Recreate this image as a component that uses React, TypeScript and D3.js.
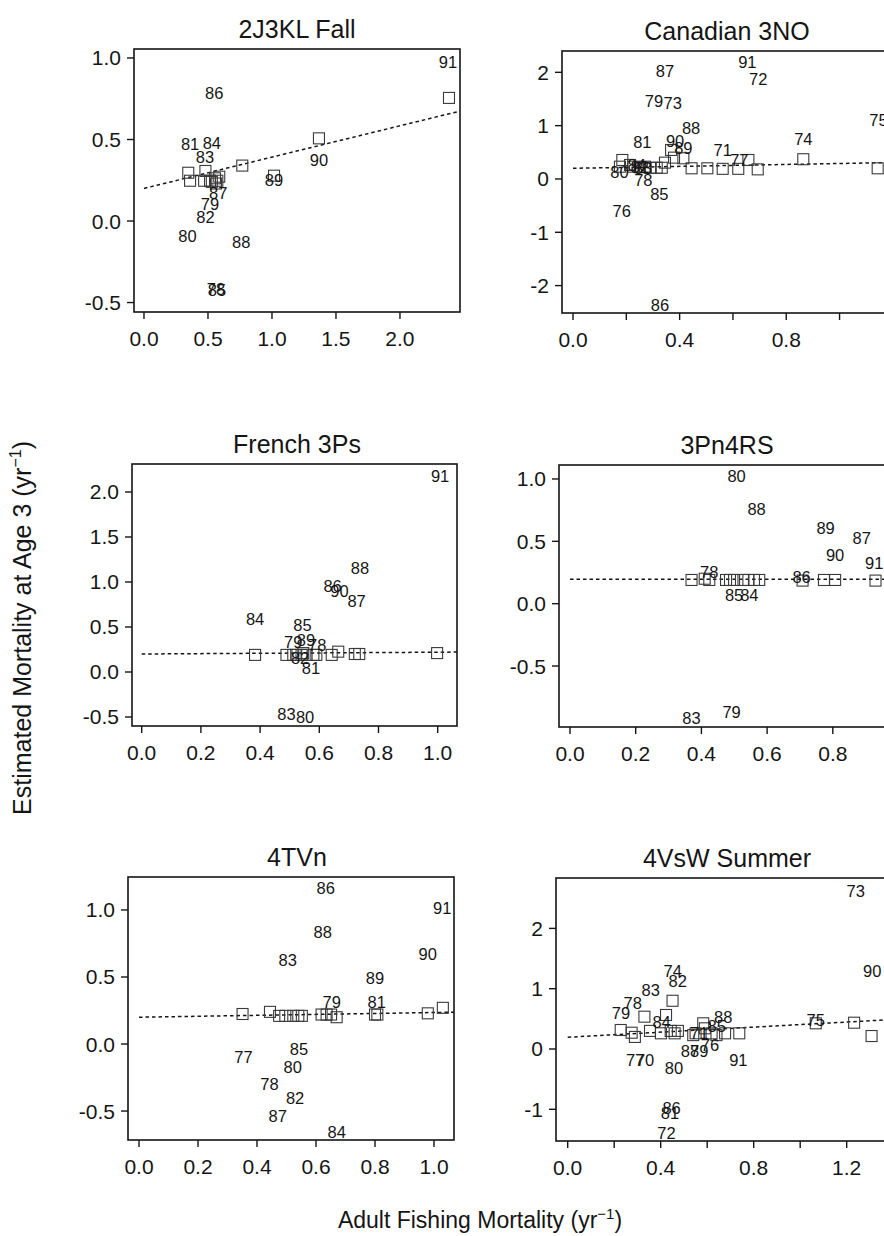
import * as d3 from "d3";

// year labels: [year, adult F, estimated M]
const fallLabels: [string, number, number][] = [
  ["86", 0.549, 0.785], ["81", 0.36, 0.47], ["84", 0.53, 0.477], ["83", 0.477, 0.395],
  ["90", 1.367, 0.374], ["89", 1.016, 0.25], ["87", 0.58, 0.17], ["79", 0.516, 0.104],
  ["82", 0.48, 0.027], ["80", 0.34, -0.092], ["88", 0.76, -0.13], ["78", 0.5625, -0.42],
  ["85", 0.57, -0.425], ["91", 2.375, 0.975],
];
const fallSquares: [number, number][] = [
  [0.346, 0.296], [0.36, 0.247], [0.48, 0.307], [0.47, 0.247], [0.516, 0.247], [0.555, 0.262],
  [0.573, 0.247], [0.588, 0.272], [0.5625, 0.23], [0.768, 0.34], [1.016, 0.278], [1.367, 0.507],
  [2.383, 0.755], [0.53, 0.24],
];

const cdnLabels: [string, number, number][] = [
  ["87", 0.345, 2.03], ["91", 0.654, 2.2], ["72", 0.695, 1.876], ["79", 0.304, 1.463],
  ["73", 0.374, 1.42], ["75", 1.146, 1.107], ["88", 0.443, 0.95], ["74", 0.864, 0.75],
  ["81", 0.26, 0.688], ["90", 0.383, 0.713], ["89", 0.414, 0.575], ["71", 0.5616, 0.544],
  ["77", 0.624, 0.356], ["80", 0.174, 0.137], ["84", 0.239, 0.263], ["82", 0.25, 0.23],
  ["83", 0.262, 0.2], ["78", 0.264, -0.02], ["85", 0.324, -0.29], ["76", 0.183, -0.6],
  ["86", 0.326, -2.36],
];
const cdnSquares: [number, number][] = [
  [0.185, 0.356], [0.176, 0.23], [0.226, 0.23], [0.251, 0.22], [0.27, 0.23], [0.289, 0.21],
  [0.314, 0.21], [0.333, 0.21], [0.345, 0.306], [0.379, 0.4], [0.414, 0.388], [0.368, 0.544],
  [0.445, 0.2], [0.504, 0.2], [0.5616, 0.19], [0.62, 0.19], [0.658, 0.356], [0.693, 0.18],
  [0.864, 0.37], [1.143, 0.2], [0.214, 0.263],
];

const frLabels: [string, number, number][] = [
  ["88", 0.7375, 1.16], ["86", 0.645, 0.96], ["90", 0.668, 0.9], ["87", 0.726, 0.79],
  ["84", 0.383, 0.585], ["85", 0.543, 0.52], ["79", 0.512, 0.337], ["89", 0.555, 0.356],
  ["78", 0.593, 0.3], ["82", 0.535, 0.152], ["81", 0.572, 0.04], ["83", 0.489, -0.47],
  ["80", 0.552, -0.5], ["91", 1.008, 2.18],
];
const frSquares: [number, number][] = [
  [0.383, 0.19], [0.489, 0.19], [0.512, 0.19], [0.54, 0.19], [0.557, 0.19], [0.58, 0.19],
  [0.642, 0.19], [0.664, 0.226], [0.72, 0.2], [0.735, 0.2], [0.546, 0.21], [0.59, 0.19],
  [0.998, 0.21], [0.522, 0.19],
];

const rsLabels: [string, number, number][] = [
  ["80", 0.507, 1.02], ["88", 0.568, 0.76], ["89", 0.778, 0.605], ["87", 0.888, 0.524],
  ["90", 0.807, 0.39], ["91", 0.926, 0.33], ["78", 0.424, 0.25], ["86", 0.705, 0.21],
  ["85", 0.4994, 0.07], ["84", 0.546, 0.07], ["83", 0.37, -0.92], ["79", 0.492, -0.866],
];
const rsSquares: [number, number][] = [
  [0.37, 0.19], [0.424, 0.19], [0.475, 0.19], [0.4994, 0.19], [0.543, 0.19], [0.576, 0.19],
  [0.708, 0.185], [0.773, 0.19], [0.807, 0.19], [0.93, 0.185], [0.41, 0.2], [0.487, 0.19],
  [0.528, 0.19], [0.56, 0.19],
];

const tvnLabels: [string, number, number][] = [
  ["86", 0.633, 1.167], ["88", 0.623, 0.838], ["83", 0.504, 0.627], ["89", 0.8, 0.495],
  ["79", 0.653, 0.311], ["81", 0.806, 0.316], ["85", 0.542, -0.037], ["77", 0.354, -0.095],
  ["80", 0.521, -0.169], ["78", 0.442, -0.3], ["82", 0.529, -0.405], ["87", 0.47, -0.537],
  ["84", 0.67, -0.654], ["90", 0.979, 0.67], ["91", 1.028, 1.017],
];
const tvnSquares: [number, number][] = [
  [0.351, 0.224], [0.444, 0.24], [0.475, 0.21], [0.496, 0.21], [0.523, 0.21], [0.54, 0.21],
  [0.552, 0.21], [0.619, 0.22], [0.636, 0.22], [0.651, 0.22], [0.67, 0.2], [0.8, 0.22],
  [0.808, 0.22], [0.979, 0.229], [1.03, 0.27],
];

const vswLabels: [string, number, number][] = [
  ["73", 1.239, 2.62], ["90", 1.31, 1.3], ["74", 0.4516, 1.3], ["82", 0.473, 1.13],
  ["83", 0.357, 0.98], ["78", 0.28, 0.77], ["79", 0.229, 0.6], ["84", 0.404, 0.45],
  ["88", 0.669, 0.526], ["85", 0.641, 0.38], ["75", 1.067, 0.48], ["71", 0.566, 0.26],
  ["76", 0.612, 0.066], ["87", 0.526, -0.03], ["89", 0.566, -0.03], ["91", 0.734, -0.19],
  ["77", 0.29, -0.18], ["70", 0.333, -0.18], ["80", 0.457, -0.32], ["86", 0.447, -0.98],
  ["81", 0.44, -1.06], ["72", 0.425, -1.39],
];
const vswSquares: [number, number][] = [
  [0.228, 0.315], [0.275, 0.27], [0.289, 0.2], [0.33, 0.536], [0.354, 0.3], [0.401, 0.26],
  [0.423, 0.564], [0.451, 0.8], [0.443, 0.3], [0.46, 0.26], [0.474, 0.3], [0.54, 0.23],
  [0.583, 0.426], [0.59, 0.343], [0.55, 0.26], [0.619, 0.26], [0.64, 0.23], [0.677, 0.26],
  [0.738, 0.26], [1.067, 0.426], [1.232, 0.436], [1.307, 0.215],
];

// dotted fit: [intercept, slope]
const fits: [number, number][] = [[0.2, 0.192], [0.2, 0.09], [0.2, 0.02], [0.195, 0], [0.2, 0.035], [0.195, 0.21]];
const titles = ["2J3KL Fall", "Canadian 3NO", "French 3Ps", "3Pn4RS", "4TVn", "4VsW Summer"];
const xDomains: [number, number][] = [[-0.078, 2.469], [-0.0413, 1.208], [-0.0328, 1.0652], [-0.0335, 0.9893], [-0.0373, 1.0678], [-0.0503, 1.4078]];
const yDomains: [number, number][] = [[-0.558, 1.055], [-2.514, 2.4], [-0.6, 2.311], [-0.989, 1.112], [-0.716, 1.246], [-1.526, 2.836]];
const xTicks = [[0, 0.5, 1, 1.5, 2], [0, 0.2, 0.4, 0.6, 0.8, 1.0], [0, 0.2, 0.4, 0.6, 0.8, 1.0], [0, 0.2, 0.4, 0.6, 0.8], [0, 0.2, 0.4, 0.6, 0.8, 1.0], [0, 0.2, 0.4, 0.6, 0.8, 1.0, 1.2]];
const xTickLabels = [[0, 0.5, 1, 1.5, 2], [0, 0.4, 0.8], [0, 0.2, 0.4, 0.6, 0.8, 1.0], [0, 0.2, 0.4, 0.6, 0.8], [0, 0.2, 0.4, 0.6, 0.8, 1.0], [0, 0.4, 0.8, 1.2]];
const yTicks = [[-0.5, 0, 0.5, 1], [-2, -1, 0, 1, 2], [-0.5, 0, 0.5, 1, 1.5, 2], [-0.5, 0, 0.5, 1], [-0.5, 0, 0.5, 1], [-1, 0, 1, 2]];
const yDigits = [1, 0, 1, 1, 1, 0];

const allLabels = [fallLabels, cdnLabels, frLabels, rsLabels, tvnLabels, vswLabels];
const allSquares = [fallSquares, cdnSquares, frSquares, rsSquares, tvnSquares, vswSquares];

// plot boxes [left, top, right, bottom] (scan is slightly skewed)
const boxes = [
  [134, 49, 460, 312], [562, 51, 895, 313],
  [132, 464, 457, 726], [559, 465, 895, 727],
  [128, 877, 454, 1140], [556, 878, 895, 1141],
];
const titleX = [297, 727, 297, 727, 297, 727];

const FONT = "'Liberation Sans', Arial, Helvetica, sans-serif";
const INK = "#151515";

function Panel({ i }: { i: number }) {
  const [l, t, r, b] = boxes[i];
  const x = d3.scaleLinear().domain(xDomains[i]).range([l, r]);
  const y = d3.scaleLinear().domain(yDomains[i]).range([b, t]);
  const [a, s] = fits[i];
  const xEnd = xDomains[i][1];
  const line = d3.line<number>().x((f) => x(f)).y((f) => y(a + s * f));
  const sq = 11;
  return (
    <g>
      <defs>
        <clipPath id={`clip${i}`}>
          <rect x={l} y={t} width={r - l} height={b - t} />
        </clipPath>
      </defs>
      <text x={titleX[i]} y={t - 11} textAnchor="middle" fontSize={25} fill={INK}>
        {titles[i]}
      </text>
      <rect x={l} y={t} width={r - l} height={b - t} fill="none" stroke={INK} strokeWidth={1.6} />
      {xTicks[i].map((v) => (
        <line key={v} x1={x(v)} x2={x(v)} y1={b} y2={b + 7} stroke={INK} strokeWidth={1.4} />
      ))}
      {xTickLabels[i].map((v) => (
        <text key={v} x={x(v)} y={b + 34} textAnchor="middle" fontSize={21} fill={INK}>
          {v.toFixed(1)}
        </text>
      ))}
      {yTicks[i].map((v) => (
        <g key={v}>
          <line x1={l - 7} x2={l} y1={y(v)} y2={y(v)} stroke={INK} strokeWidth={1.4} />
          <text x={l - 13} y={y(v)} textAnchor="end" dominantBaseline="central" fontSize={21} fill={INK}>
            {v.toFixed(yDigits[i])}
          </text>
        </g>
      ))}
      <g clipPath={`url(#clip${i})`}>
        <path d={line([0, xEnd]) || ""} fill="none" stroke={INK} strokeWidth={1.5} strokeDasharray="3.5,3" />
        {allSquares[i].map(([f, m], k) => (
          <rect key={k} x={x(f) - sq / 2} y={y(m) - sq / 2} width={sq} height={sq} fill="none" stroke="#3a3a3a" strokeWidth={1.1} />
        ))}
        {allLabels[i].map(([yr, f, m], k) => (
          <text key={k} x={x(f)} y={y(m)} textAnchor="middle" dominantBaseline="central" fontSize={16.5} fill={INK}>
            {yr}
          </text>
        ))}
      </g>
    </g>
  );
}

export default function App() {
  return (
    <svg
      width={884}
      height={1236}
      style={{ position: "absolute", left: 0, top: 0, background: "#fff" }}
      fontFamily={FONT}
    >
      <rect width={884} height={1236} fill="#fff" />
      {titles.map((_, i) => (
        <Panel key={i} i={i} />
      ))}
      <text transform="translate(31,628) rotate(-90)" textAnchor="middle" fontSize={25} fill={INK}>
        Estimated Mortality at Age 3 (yr
        <tspan fontSize={16} dy={-10}>−1</tspan>
        <tspan dy={10}>)</tspan>
      </text>
      <text x={480} y={1228} textAnchor="middle" fontSize={23} fill={INK}>
        Adult Fishing Mortality (yr
        <tspan fontSize={15} dy={-9}>−1</tspan>
        <tspan dy={9}>)</tspan>
      </text>
    </svg>
  );
}
